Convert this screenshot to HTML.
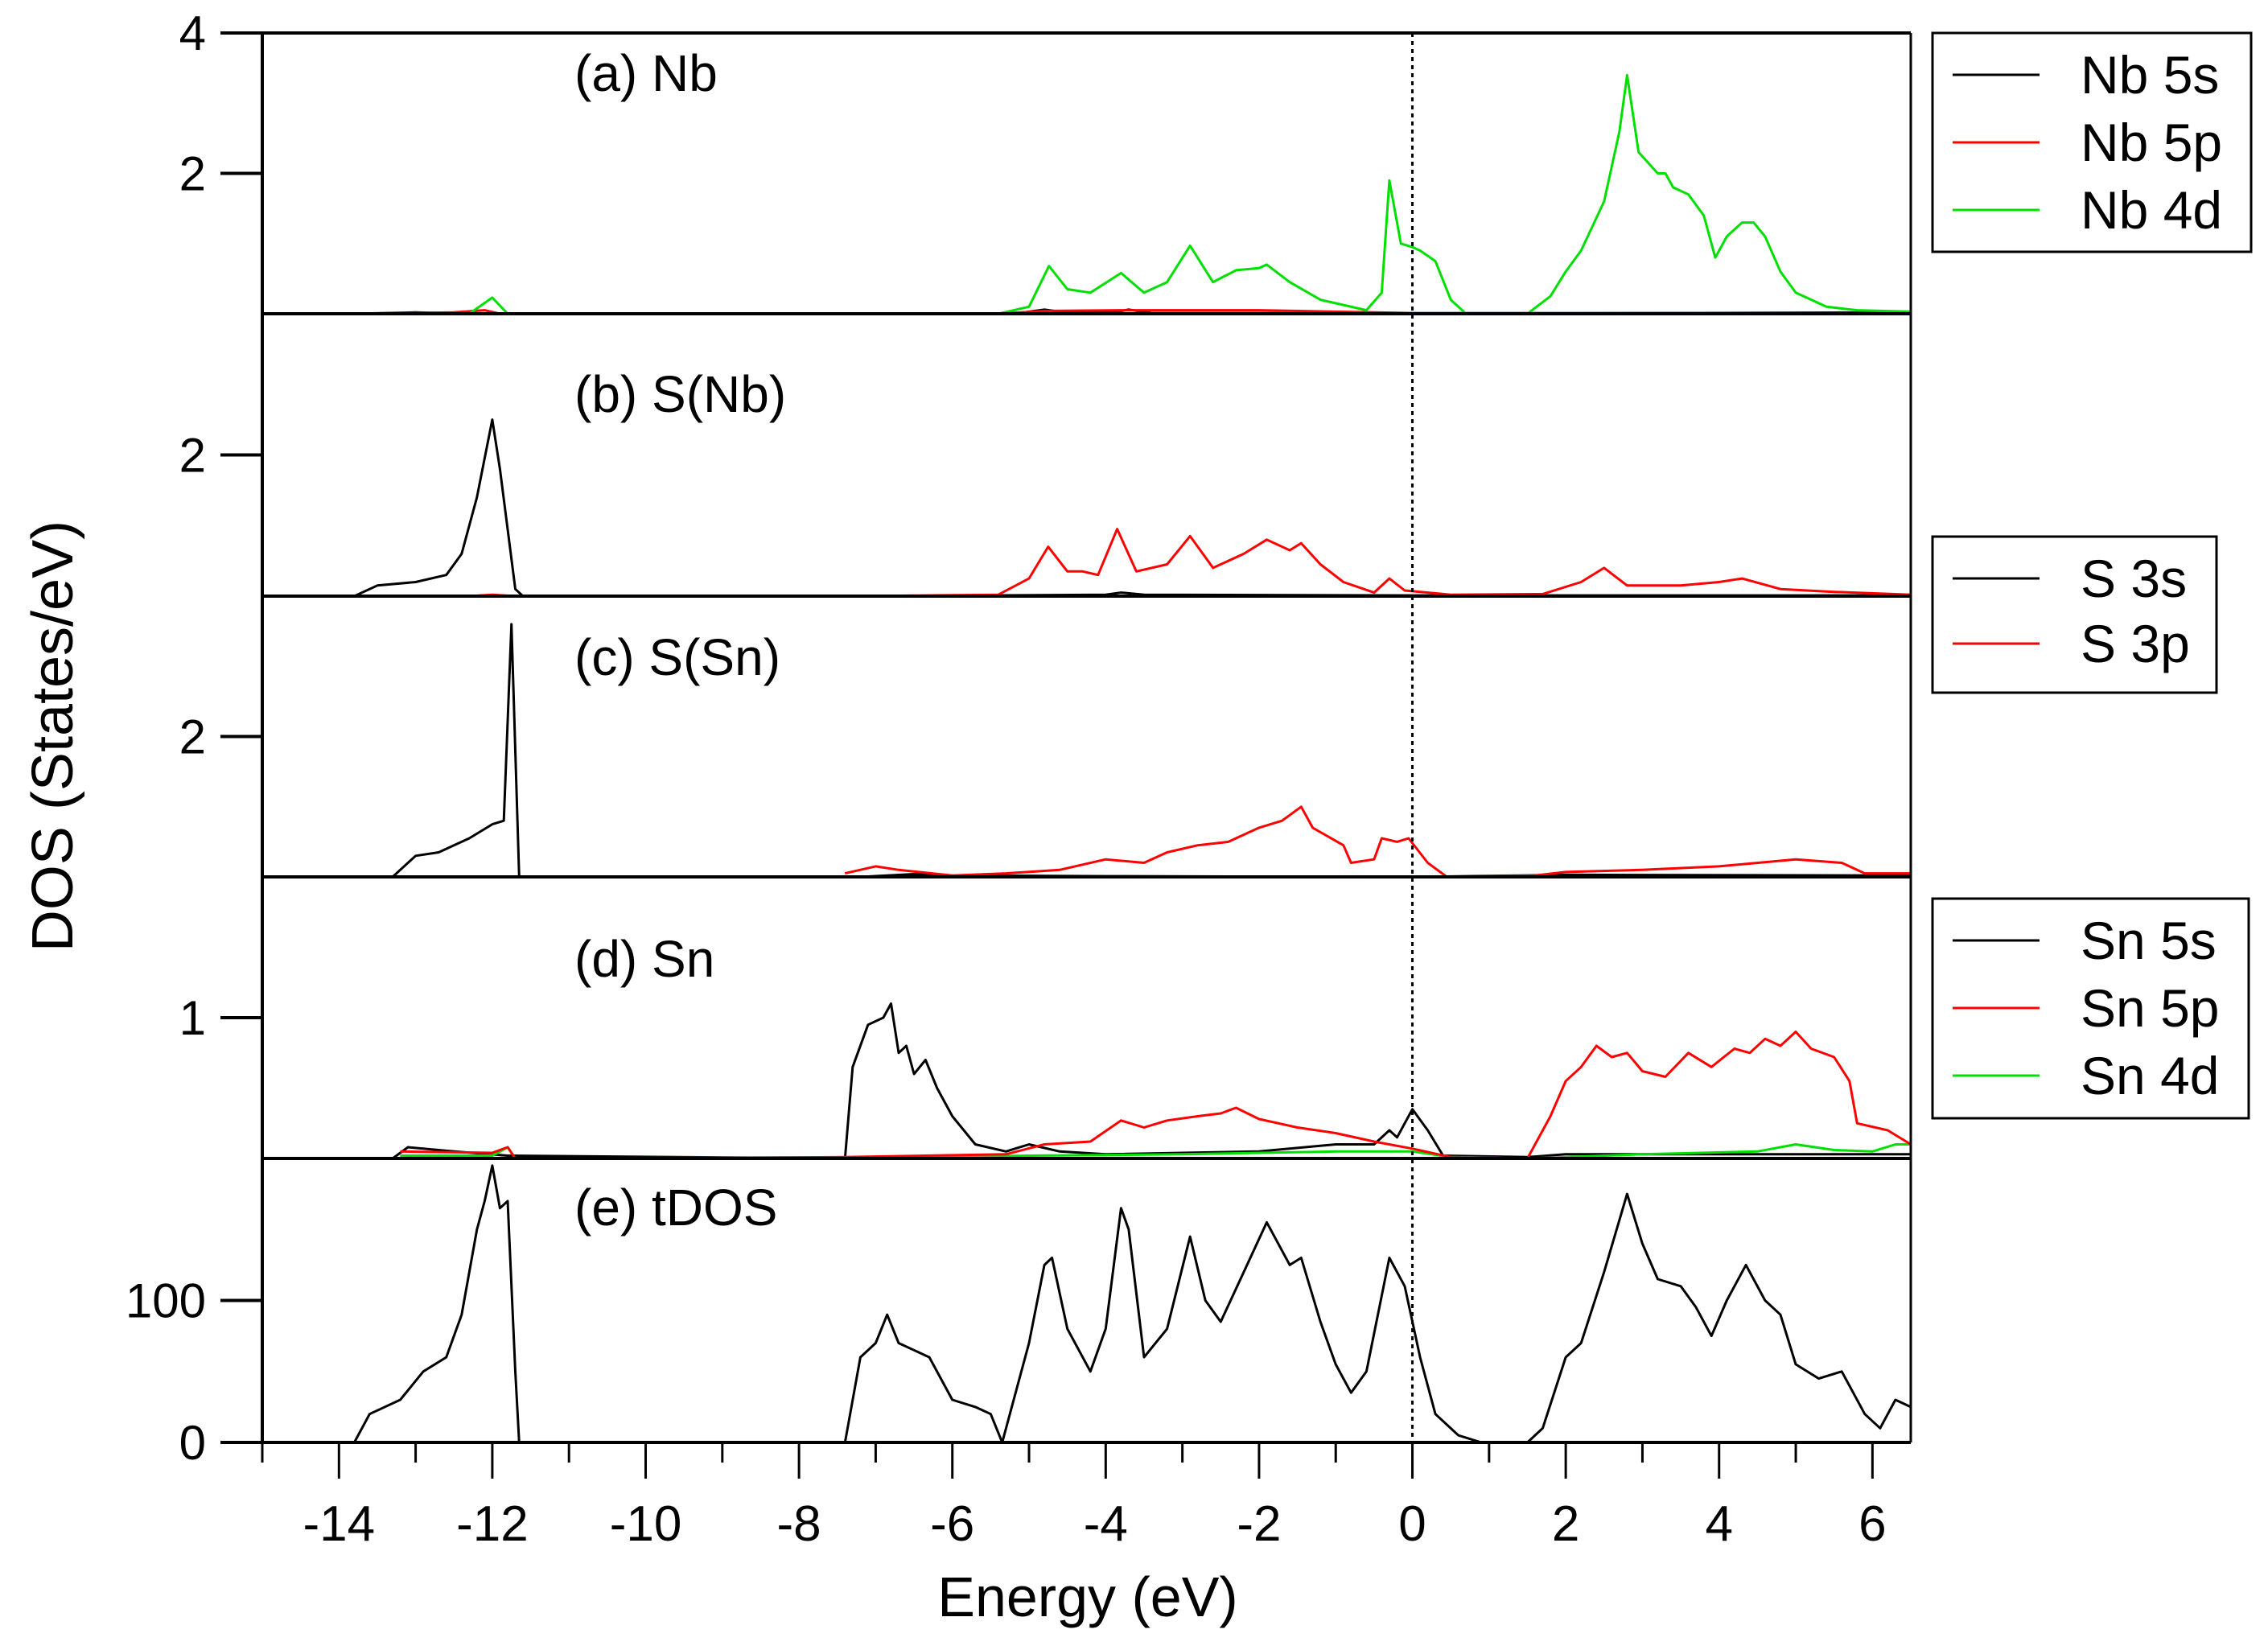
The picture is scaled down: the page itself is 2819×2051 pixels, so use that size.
<!DOCTYPE html>
<html><head><meta charset="utf-8"><style>
html,body{margin:0;padding:0;background:#fff}
svg{display:block}
text{font-family:"Liberation Sans",sans-serif;fill:#000}
</style></head><body>
<svg id="chart" width="2819" height="2051" viewBox="0 0 2819 2051" xmlns="http://www.w3.org/2000/svg"></svg>
<script>
// ---------- data ----------
const xTicks = [-14,-12,-10,-8,-6,-4,-2,0,2,4,6];
const panelLabels = ["(a) Nb","(b) S(Nb)","(c) S(Sn)","(d) Sn","(e) tDOS"];
const panelMax = [4,4,4,2,200];
const yTickValues = [[2,4],[2],[2],[1],[0,100]];

const nb5sE=[-13.8,-13,-12.3,-5.2,-4.8,-4.6,-3.9,-3.7,-3.4,-2,0,6.5];
const nb5sV=[0,0.02,0,0,0.06,0.03,0.02,0.06,0.01,0.01,0,0.02];
const nb5pE=[-13.8,-12.5,-12.1,-11.9,-5.4,-4.8,-3.8,-2,-1.5,-0.5,0,6.5];
const nb5pV=[0,0.02,0.05,0,0,0.04,0.05,0.05,0.04,0.02,0.01,0.01];
const nb4dE=[-13.5,-12.3,-12.0,-11.8,-5.4,-5.0,-4.74,-4.5,-4.2,-3.8,-3.5,-3.2,-2.9,-2.6,-2.3,-2.0,-1.9,-1.6,-1.2,-0.6,-0.4,-0.3,-0.15,0.0,0.1,0.3,0.5,0.7,1.5,1.8,2.0,2.2,2.5,2.7,2.8,2.95,3.2,3.3,3.4,3.6,3.8,3.95,4.1,4.3,4.45,4.6,4.8,5.0,5.4,5.8,6.5];
const nb4dV=[0,0,0.23,0,0,0.1,0.68,0.35,0.3,0.58,0.3,0.45,0.97,0.45,0.62,0.65,0.7,0.45,0.2,0.05,0.3,1.9,1.0,0.95,0.9,0.75,0.2,0,0,0.25,0.6,0.9,1.6,2.6,3.4,2.3,2.0,2.0,1.8,1.7,1.4,0.8,1.1,1.3,1.3,1.1,0.6,0.3,0.1,0.05,0.03];

const s3sNbE=[-13.8,-13.5,-13,-12.6,-12.4,-12.2,-12.0,-11.9,-11.7,-11.6,-7,-4,-3.8,-3.5,0,6.5];
const s3sNbV=[0,0.15,0.2,0.3,0.6,1.4,2.5,1.8,0.1,0,0,0.02,0.05,0.02,0.01,0.01];
const s3pNbE=[-12.3,-12,-11.7,-7.2,-5.4,-5.0,-4.75,-4.5,-4.3,-4.1,-3.85,-3.6,-3.2,-2.9,-2.6,-2.2,-1.9,-1.6,-1.45,-1.2,-0.9,-0.5,-0.3,-0.1,0.5,1.7,2.2,2.5,2.8,3.5,4.0,4.3,4.8,5.5,6.5];
const s3pNbV=[0,0.02,0,0,0.02,0.25,0.7,0.35,0.35,0.3,0.95,0.35,0.45,0.85,0.4,0.6,0.8,0.65,0.75,0.45,0.2,0.05,0.25,0.08,0.02,0.03,0.2,0.4,0.15,0.15,0.2,0.25,0.1,0.06,0.02];

const s3sSnE=[-13.3,-13.0,-12.7,-12.3,-12.0,-11.85,-11.75,-11.65,-7.2,-6.5,-6,-4,0,2,6.5];
const s3sSnV=[0,0.3,0.35,0.55,0.75,0.8,3.6,0,0,0.04,0.02,0.01,0,0.03,0.02];
const s3pSnE=[-7.4,-7.0,-6.7,-6.0,-5.3,-4.6,-4.0,-3.5,-3.2,-2.8,-2.4,-2.0,-1.7,-1.45,-1.3,-0.9,-0.8,-0.5,-0.4,-0.2,-0.05,0.2,0.45,1.6,2.0,3.0,4.0,5.0,5.6,5.9,6.5];
const s3pSnV=[0.05,0.15,0.1,0.02,0.05,0.1,0.25,0.2,0.35,0.45,0.5,0.7,0.8,1.0,0.7,0.45,0.2,0.25,0.55,0.5,0.55,0.2,0,0.02,0.07,0.1,0.15,0.25,0.2,0.05,0.05];

const sn5sE=[-13.3,-13.1,-12.5,-11.8,-7.4,-7.3,-7.1,-6.9,-6.8,-6.7,-6.6,-6.5,-6.35,-6.2,-6.0,-5.7,-5.3,-5.0,-4.6,-4.0,-2.0,-1.0,-0.5,-0.3,-0.2,0.0,0.2,0.4,1.5,2.0,6.5];
const sn5sV=[0,0.08,0.05,0.02,0,0.65,0.95,1.0,1.1,0.75,0.8,0.6,0.7,0.5,0.3,0.1,0.05,0.1,0.05,0.03,0.05,0.1,0.1,0.2,0.15,0.35,0.2,0.02,0.01,0.03,0.03];
const sn5pE=[-13.2,-12.0,-11.8,-11.7,-7.4,-5.3,-4.8,-4.2,-3.8,-3.5,-3.2,-2.8,-2.5,-2.3,-2.0,-1.5,-1.0,-0.5,0.0,0.5,1.5,1.8,2.0,2.2,2.4,2.6,2.8,3.0,3.3,3.6,3.9,4.2,4.4,4.6,4.8,5.0,5.2,5.5,5.7,5.8,6.2,6.5];
const sn5pV=[0.05,0.04,0.08,0,0.01,0.03,0.1,0.12,0.27,0.22,0.27,0.3,0.32,0.36,0.28,0.22,0.18,0.12,0.07,0.01,0,0.3,0.55,0.65,0.8,0.72,0.75,0.62,0.58,0.75,0.65,0.78,0.75,0.85,0.8,0.9,0.78,0.72,0.55,0.25,0.2,0.1];
const sn4dE=[-13.2,-12,-11.8,-11.7,-7.4,-5,-3,-1,0,0.5,1.5,3,4.5,5.0,5.5,6.0,6.3,6.5];
const sn4dV=[0.02,0.02,0.08,0,0,0.02,0.03,0.05,0.05,0.01,0,0.03,0.05,0.1,0.06,0.05,0.1,0.1];

const tdosE=[-13.8,-13.6,-13.2,-12.9,-12.6,-12.4,-12.2,-12.1,-12.0,-11.9,-11.8,-11.7,-11.65,-7.4,-7.2,-7.0,-6.85,-6.7,-6.5,-6.3,-6.0,-5.7,-5.5,-5.35,-5.0,-4.8,-4.7,-4.5,-4.35,-4.2,-4.0,-3.8,-3.7,-3.5,-3.2,-2.9,-2.7,-2.5,-2.2,-1.9,-1.6,-1.45,-1.2,-1.0,-0.8,-0.6,-0.3,-0.1,0.1,0.3,0.6,0.9,1.5,1.7,2.0,2.2,2.5,2.8,3.0,3.2,3.5,3.7,3.9,4.1,4.35,4.6,4.8,5.0,5.3,5.6,5.9,6.1,6.3,6.5];
const tdosV=[0,20,30,50,60,90,150,170,195,165,170,50,0,0,60,70,90,70,65,60,30,25,20,0,70,125,130,80,65,50,80,165,150,60,80,145,100,85,120,155,125,130,85,55,35,50,130,110,60,20,5,0,0,10,60,70,120,175,140,115,110,95,75,100,125,100,90,55,45,50,20,10,30,25];

const series = [
  {p:0,name:"Nb 5s",color:"#000",E:nb5sE,V:nb5sV},
  {p:0,name:"Nb 5p",color:"#ff0000",E:nb5pE,V:nb5pV},
  {p:0,name:"Nb 4d",color:"#00e000",E:nb4dE,V:nb4dV},
  {p:1,name:"S(Nb) 3s",color:"#000",E:s3sNbE,V:s3sNbV},
  {p:1,name:"S(Nb) 3p",color:"#ff0000",E:s3pNbE,V:s3pNbV},
  {p:2,name:"S(Sn) 3s",color:"#000",E:s3sSnE,V:s3sSnV},
  {p:2,name:"S(Sn) 3p",color:"#ff0000",E:s3pSnE,V:s3pSnV},
  {p:3,name:"Sn 5s",color:"#000",E:sn5sE,V:sn5sV},
  {p:3,name:"Sn 4d",color:"#00e000",E:sn4dE,V:sn4dV},
  {p:3,name:"Sn 5p",color:"#ff0000",E:sn5pE,V:sn5pV},
  {p:4,name:"tDOS",color:"#000",E:tdosE,V:tdosV}
];
const legends = [
  {top:41,h:272,w:396,names:["Nb 5s","Nb 5p","Nb 4d"],colors:["#000","#ff0000","#00e000"]},
  {top:667,h:194,w:353,names:["S 3s","S 3p"],colors:["#000","#ff0000"]},
  {top:1117,h:273,w:393,names:["Sn 5s","Sn 5p","Sn 4d"],colors:["#000","#ff0000","#00e000"]}
];

// ---------- layout ----------
const L=326,R=2375,T=41,B=1793;
const panelTops=[41,390,741,1090,1440];
const xMin=-15,xMax=6.5;
const NS="http://www.w3.org/2000/svg";
const svg=document.getElementById('chart');
function X(e){return L+(e-xMin)/(xMax-xMin)*(R-L);}
function Y(p,v){const base=p<4?panelTops[p+1]:B;const h=base-panelTops[p];return base-v/panelMax[p]*h;}
function mk(tag,attrs,parent){const el=document.createElementNS(NS,tag);for(const k in attrs)el.setAttribute(k,attrs[k]);(parent||svg).appendChild(el);return el;}

series.forEach(s=>{
  const d=s.E.map((e,i)=>(i?'L':'M')+X(e).toFixed(1)+' '+Y(s.p,s.V[i]).toFixed(1)).join(' ');
  const path=mk('path',{d:d,fill:'none',stroke:s.color,'stroke-width':3,'stroke-linejoin':'round'});
  
  
});

const fl=mk('line',{x1:X(0),x2:X(0),y1:T,y2:B,stroke:'#000','stroke-width':3,'stroke-dasharray':'5 5'});



const labelOffsets=[72,122,98,124,83];
for(let p=0;p<5;p++){
  const base=p<4?panelTops[p+1]:B;
  const bl=mk('line',{x1:L,x2:R,y1:base,y2:base,stroke:'#000','stroke-width':4});
  
  
  yTickValues[p].forEach(v=>{
    const y=Y(p,v);
    const tk=mk('line',{x1:L-52,x2:L,y1:y,y2:y,stroke:'#000','stroke-width':4});
    
    
    const tx=mk('text',{x:L-70,y:y+21,'text-anchor':'end','font-size':60});
    tx.textContent=v;
    
    
  });
  const lab=mk('text',{x:714,y:panelTops[p]+labelOffsets[p],'font-size':64});
  lab.textContent=panelLabels[p];
  
  
}
const topLine=mk('line',{x1:L-52,x2:R,y1:T,y2:T,stroke:'#000','stroke-width':4});


const leftAx=mk('line',{x1:L,x2:L,y1:T,y2:B,stroke:'#000','stroke-width':4});


const rightAx=mk('line',{x1:R,x2:R,y1:T,y2:B,stroke:'#000','stroke-width':3});


const zl=mk('line',{x1:L-52,x2:L,y1:B,y2:B,stroke:'#000','stroke-width':4});



for(let e=-15;e<=6;e++){
  const major=xTicks.indexOf(e)>=0;
  const tk=mk('line',{x1:X(e),x2:X(e),y1:B,y2:B+(major?45:25),stroke:'#000','stroke-width':3});
  
  
}
xTicks.forEach(e=>{
  const tx=mk('text',{x:X(e),y:1915,'text-anchor':'middle','font-size':62});
  tx.textContent=e;
  
  
});
const xt=mk('text',{x:1352,y:2009,'text-anchor':'middle','font-size':70});
xt.textContent='Energy (eV)';


const yt=mk('text',{x:0,y:0,'text-anchor':'middle','font-size':72,transform:'translate(90,915) rotate(-90)'});
yt.textContent='DOS (States/eV)';



legends.forEach((lg,i)=>{
  const g=mk('g',{});
  
  
  mk('rect',{x:2402,y:lg.top,width:lg.w,height:lg.h,fill:'#fff',stroke:'#000','stroke-width':3},g);
  const n=lg.names.length;
  const step=n===3?84:81;
  const y0=lg.top+52;
  lg.names.forEach((nm,j)=>{
    const y=y0+j*step;
    const ln=mk('line',{x1:2427,x2:2535,y1:y,y2:y,stroke:lg.colors[j],'stroke-width':3},g);
    
    
    const t=mk('text',{x:2586,y:y+23,'font-size':66},g);
    t.textContent=nm;
    
    
  });
});
</script>
</body></html>
